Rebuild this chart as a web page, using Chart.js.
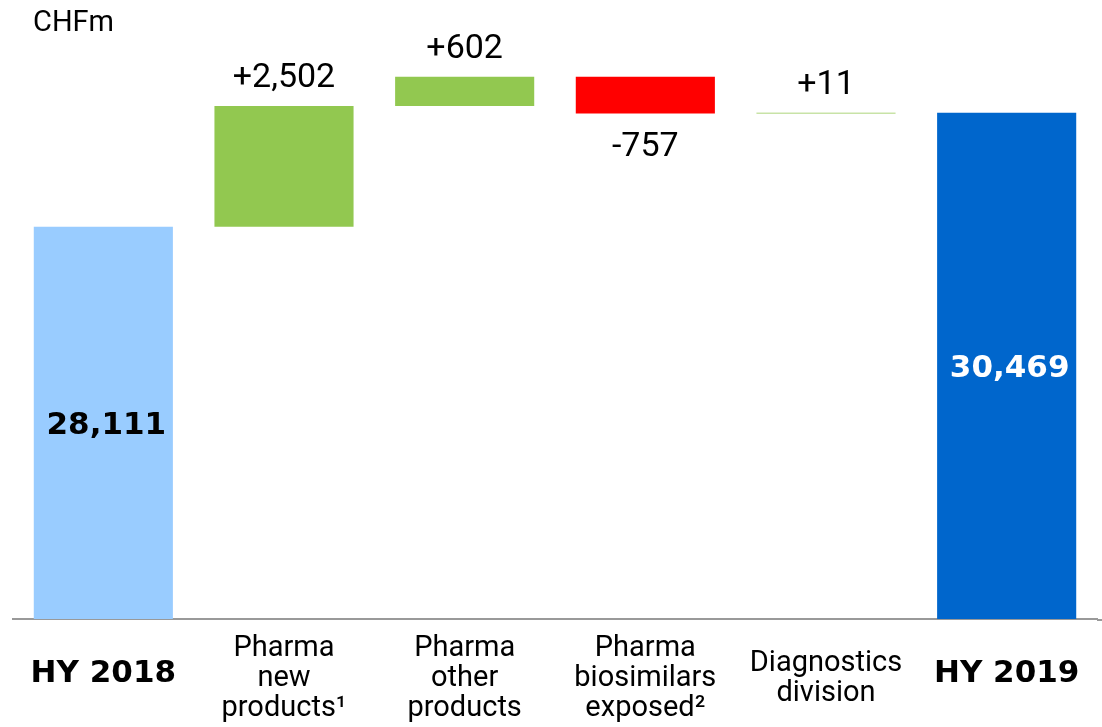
<!DOCTYPE html>
<html>
<head>
<meta charset="utf-8">
<script src="https://cdn.jsdelivr.net/npm/chart.js@4"></script>
<style>
  html, body { margin: 0; padding: 0; background: #fff; }
  #wrap { width: 1102px; height: 727px; position: relative; }
</style>
</head>
<body>
<div id="wrap"><canvas id="wf"></canvas></div>
<script>
// 数据
const categories = [
    ['HY 2018'],
    ['Pharma', 'new', 'products\u00b9'],
    ['Pharma', 'other', 'products'],
    ['Pharma', 'biosimilars', 'exposed\u00b2'],
    ['Diagnostics', 'division'],
    ['HY 2019']
];
const startValue = 28111;
const changes = [2502, 602, -757, 11];
const endValue = 30469;
const unitLabel = 'CHFm';

const yMin = 20000;
const yMax = 31500;

// 颜色
const colStart = '#99CCFF';
const colUp = '#92C850';
const colDown = '#FF0000';
const colEnd = '#0066CC';

const heavyFont = 'bold 31px "DejaVu Sans"';

// 累计值 -> 浮动柱
function buildBars() {
    const bars = [[0, startValue]];
    const colors = [colStart];
    let run = startValue;
    changes.forEach(c => {
        bars.push([run, run + c]);
        colors.push(c >= 0 ? colUp : colDown);
        run += c;
    });
    bars.push([0, endValue]);
    colors.push(colEnd);
    return { bars, colors };
}

function fmt(v) {
    return Math.abs(v).toLocaleString('en-US');
}

const { bars, colors } = buildBars();

// 标签插件
const labelPlugin = {
    id: 'wfLabels',
    afterDraw(chart) {
        const ctx = chart.ctx;
        const xs = chart.scales.x;
        const ys = chart.scales.y;
        const area = chart.chartArea;
        ctx.save();

        // 单位
        ctx.fillStyle = '#000';
        ctx.font = '29px Roboto';
        ctx.textAlign = 'left';
        ctx.textBaseline = 'middle';
        ctx.fillText(unitLabel, 33, 24);

        // 轴线延伸到右边
        ctx.strokeStyle = '#999';
        ctx.lineWidth = 2;
        ctx.beginPath();
        ctx.moveTo(area.right, area.bottom + 1);
        ctx.lineTo(chart.width, area.bottom + 1);
        ctx.stroke();

        // 数值
        bars.forEach((b, i) => {
            const x = xs.getPixelForValue(i);
            ctx.textAlign = 'center';
            ctx.textBaseline = 'middle';
            if (i === 0 || i === bars.length - 1) {
                const top = ys.getPixelForValue(b[1]);
                const mid = (top + area.bottom) / 2 + 3;
                ctx.font = heavyFont;
                ctx.fillStyle = i === 0 ? '#000' : '#fff';
                ctx.fillText(fmt(b[1]), x + 3, mid);
            } else {
                const c = changes[i - 1];
                ctx.font = '34px Roboto';
                ctx.fillStyle = '#000';
                if (c >= 0) {
                    const top = ys.getPixelForValue(b[1]);
                    ctx.fillText('+' + fmt(c), x, top - 27);
                } else {
                    const bot = ys.getPixelForValue(b[1]);
                    ctx.fillText('-' + fmt(c), x, bot + 34);
                }
            }
        });

        // 分类标签
        categories.forEach((lines, i) => {
            const x = xs.getPixelForValue(i);
            const bold = lines.length === 1;
            ctx.font = bold ? heavyFont : '29px Roboto';
            ctx.fillStyle = '#000';
            ctx.textAlign = 'center';
            ctx.textBaseline = 'middle';
            const lh = 30;
            const y0 = (bold ? 674 : 679) - (lines.length - 1) * lh / 2;
            lines.forEach((t, k) => ctx.fillText(t, x, y0 + k * lh));
        });

        ctx.restore();
    }
};

new Chart(document.getElementById('wf').getContext('2d'), {
    type: 'bar',
    data: {
        labels: categories.map(l => l.join(' ')),
        datasets: [{
            data: bars,
            backgroundColor: colors,
            borderWidth: 0,
            barPercentage: 0.77,
            categoryPercentage: 1.0
        }]
    },
    options: {
        responsive: true,
        maintainAspectRatio: false,
        animation: false,
        layout: { padding: { left: 13, right: 5, top: 63, bottom: 108 } },
        plugins: {
            legend: { display: false },
            tooltip: { enabled: false }
        },
        scales: {
            x: {
                grid: { display: false, drawTicks: false },
                border: { display: true, color: '#999', width: 2 },
                ticks: { display: false }
            },
            y: {
                display: false,
                min: yMin,
                max: yMax
            }
        }
    },
    plugins: [labelPlugin]
});
</script>
</body>
</html>
